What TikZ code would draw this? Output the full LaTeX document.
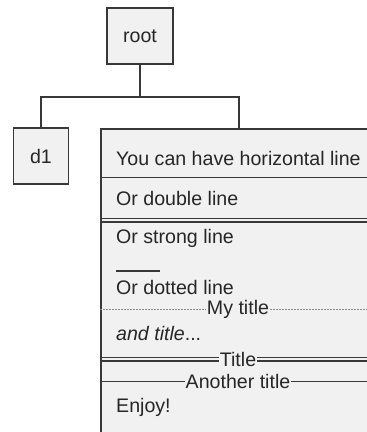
\documentclass[tikz,border=0pt]{standalone}
\usepackage{fontspec}
\setmainfont{Liberation Sans}
\usetikzlibrary{positioning, calc}
\definecolor{boxfill}{HTML}{F1F1F1}
\definecolor{boxline}{HTML}{383838}
\definecolor{dotline}{HTML}{8A8A8A}

\begin{document}
\begin{tikzpicture}[
    x=1pt, y=-1pt,
    every node/.style={font=\fontsize{19.6}{22}\selectfont, text=black!85},
    box/.style={rectangle, draw=boxline, fill=boxfill, line width=1.7pt},
    row/.style={anchor=west, inner sep=0pt},
    ttl/.style={inner sep=0.5pt},
    sep/.style={boxline, line width=1.5pt},
    dots/.style={dotline, line width=0.8pt, dash pattern=on 2pt off 1pt},
    link/.style={boxline, line width=1.7pt},
]
\clip (0,0) rectangle (367,432);
\fill[white] (0,0) rectangle (367,432);

% tree nodes
\node[box, minimum width=66, minimum height=56] (root) at (140,36) {root};
\node[box, minimum width=55, minimum height=56] (d1) at (41,156) {d1};
\node[box, anchor=north west, minimum width=276, minimum height=320] (list) at (100,128) {};

% connectors
\coordinate (fork) at (140,97);
\draw[link] (root.south) -- (fork);
\draw[link] (fork) -| (d1.north);
\draw[link] (fork) -| (list.north);

% rows of the big box
\node[row] (r1) at (116,158) {You can have horizontal line};
\draw[sep] (100,177.3) -- (376,177.3);
\node[row] (r2) at (116,198) {Or double line};
\draw[sep] (100,218.6) -- (376,218.6);
\draw[sep] (100,221.8) -- (376,221.8);
\node[row] (r3) at (116,238) {Or strong line};
\draw[sep] (116,271) -- (160,271);
\node[row] (r4) at (116,287) {Or dotted line};

\node[ttl] (t1) at (238,309.5) {My title};
\draw[dots] (100,309.5) -- (t1.west);
\draw[dots] (t1.east) -- (376,309.5);

\node[row] (r5) at (116,333) {\itshape and title\upshape...};

\node[ttl] (t2) at (238,359.3) {Title};
\draw[sep] (100,357.7) -- (t2.west |- 0,357.7);
\draw[sep] (100,361) -- (t2.west |- 0,361);
\draw[sep] (t2.east |- 0,357.7) -- (376,357.7);
\draw[sep] (t2.east |- 0,361) -- (376,361);

\node[ttl] (t3) at (238,381.7) {Another title};
\draw[sep] (100,381.7) -- (t3.west);
\draw[sep] (t3.east) -- (376,381.7);

\node[row] (r6) at (116,407) {Enjoy!};
\end{tikzpicture}
\end{document}
